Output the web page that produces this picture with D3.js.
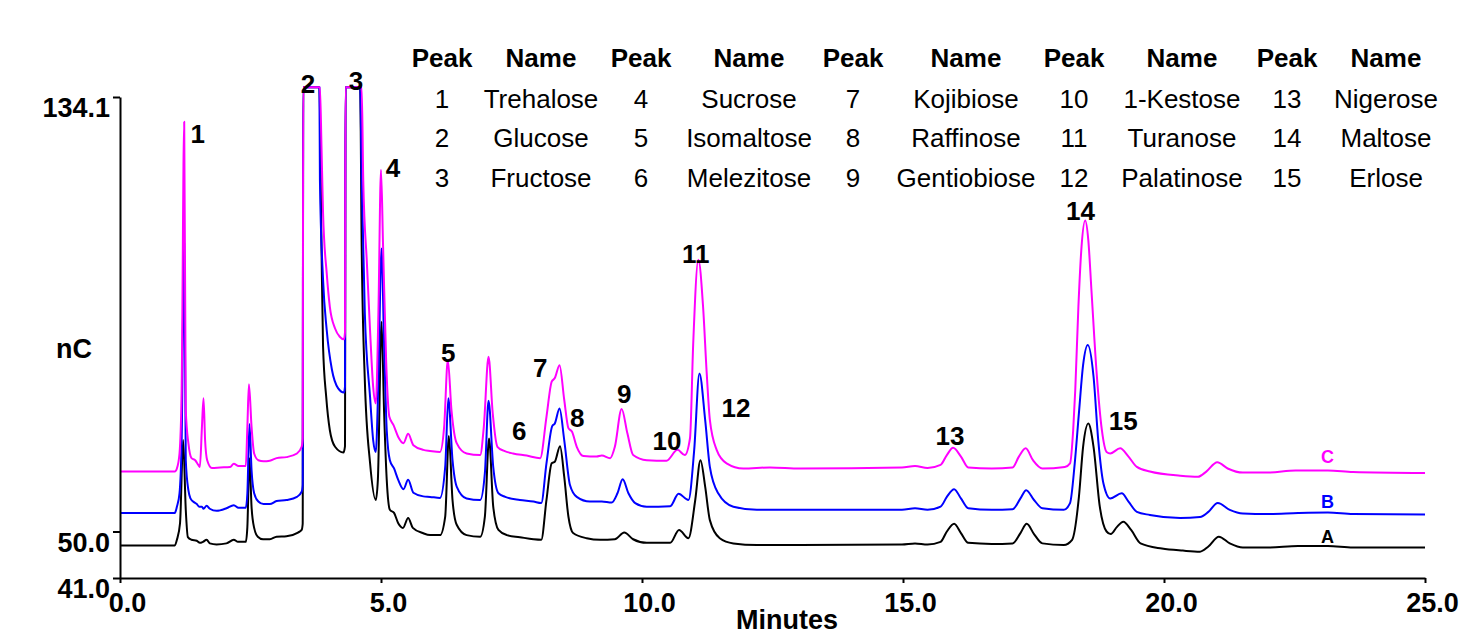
<!DOCTYPE html>
<html><head><meta charset="utf-8">
<script src="https://cdn.jsdelivr.net/npm/d3@7"></script>
<style>
html,body{margin:0;padding:0;background:#fff;}
svg{display:block;font-family:"Liberation Sans",Arial,Helvetica,sans-serif;}
</style></head><body>
<svg id="chart" width="1467" height="634"></svg>
<script>
// ---- data (minutes, nC) ----
const traceA = [[0,47.3],[1.05,47.3],[1.09,48.4],[1.15,51.6],[1.21,67.7],[1.26,54.2],[1.30,48.9],[1.37,48.4],[1.47,48.2],[1.53,47.8],[1.59,48.0],[1.66,48.4],[1.72,47.7],[1.85,47.5],[2.04,47.7],[2.18,48.4],[2.26,48.0],[2.41,48.0],[2.44,50.9],[2.48,64.2],[2.52,54.8],[2.57,50.7],[2.64,49.0],[2.74,48.5],[2.87,48.5],[3.00,49.0],[3.19,49.1],[3.41,49.8],[3.48,50.3],[3.50,51.5],[3.51,136.0],[3.82,136.0],[3.86,105.1],[3.89,85.8],[3.95,76.1],[4.02,69.6],[4.12,66.4],[4.28,65.3],[4.31,66.5],[4.32,136.0],[4.60,136.0],[4.63,105.1],[4.69,79.3],[4.79,63.3],[4.90,56.1],[4.94,60.0],[5.01,90.6],[5.06,72.9],[5.11,60.0],[5.17,54.2],[5.25,53.6],[5.33,51.6],[5.42,50.7],[5.52,52.6],[5.61,50.7],[5.80,49.7],[5.94,49.3],[6.13,49.3],[6.23,52.9],[6.30,68.5],[6.37,56.1],[6.45,51.3],[6.64,49.3],[6.90,49.0],[6.99,52.9],[7.07,68.0],[7.15,54.8],[7.25,50.3],[7.41,49.3],[7.66,48.9],[7.92,48.5],[8.07,48.4],[8.17,56.1],[8.27,63.2],[8.33,63.5],[8.43,66.5],[8.51,60.6],[8.59,52.9],[8.68,49.7],[8.94,48.7],[9.20,48.4],[9.48,48.5],[9.66,49.8],[9.83,48.5],[10.09,47.8],[10.54,47.8],[10.71,50.3],[10.89,48.7],[11.02,56.1],[11.12,63.8],[11.21,58.7],[11.30,52.2],[11.49,48.7],[11.75,47.7],[12.20,47.4],[13.03,47.4],[14.98,47.5],[15.23,47.7],[15.47,47.5],[15.72,48.0],[15.84,50.0],[15.98,51.5],[16.11,49.7],[16.25,47.8],[16.70,47.6],[17.10,47.7],[17.25,49.7],[17.37,51.5],[17.51,49.5],[17.67,47.7],[18.08,47.4],[18.24,48.4],[18.37,56.7],[18.45,66.4],[18.55,70.9],[18.65,66.4],[18.77,54.8],[18.90,50.0],[18.98,49.5],[19.10,50.9],[19.22,51.9],[19.37,50.3],[19.55,47.7],[19.96,46.7],[20.36,46.3],[20.69,46.1],[20.85,47.1],[21.05,49.0],[21.26,47.7],[21.51,46.9],[21.99,46.9],[22.57,47.2],[23.14,47.2],[23.62,46.9],[25.00,46.9]];

const traceB = [[0,53.6],[1.05,53.6],[1.09,54.8],[1.14,57.4],[1.18,67.1],[1.23,105.8],[1.26,63.8],[1.31,58.0],[1.35,56.4],[1.40,55.8],[1.47,55.3],[1.52,54.8],[1.57,54.8],[1.60,54.4],[1.66,55.0],[1.72,54.4],[1.85,54.0],[2.04,54.5],[2.18,55.1],[2.27,54.6],[2.41,54.6],[2.44,57.4],[2.48,70.8],[2.52,61.9],[2.57,57.4],[2.65,55.8],[2.75,55.3],[2.87,55.3],[3.00,55.9],[3.19,56.1],[3.39,56.7],[3.48,57.7],[3.50,59.0],[3.51,136.0],[3.82,136.0],[3.83,118.0],[3.89,98.7],[3.96,89.0],[4.06,81.3],[4.18,77.7],[4.29,76.9],[4.31,78.0],[4.32,136.0],[4.60,136.0],[4.63,118.0],[4.69,92.3],[4.79,76.1],[4.85,67.7],[4.90,65.4],[4.95,79.3],[5.01,104.8],[5.06,85.8],[5.11,69.6],[5.17,63.8],[5.25,62.2],[5.33,60.0],[5.43,58.2],[5.52,60.0],[5.62,57.5],[5.81,56.8],[5.94,56.7],[6.13,56.5],[6.23,62.5],[6.29,75.8],[6.37,63.8],[6.45,58.7],[6.64,56.4],[6.90,56.1],[6.99,61.3],[7.06,75.3],[7.15,62.5],[7.25,57.4],[7.38,56.7],[7.66,56.1],[7.92,55.8],[8.07,55.5],[8.17,63.2],[8.28,70.4],[8.33,70.9],[8.42,73.8],[8.51,67.7],[8.62,59.0],[8.75,56.7],[9.00,55.8],[9.23,55.8],[9.42,55.6],[9.53,57.4],[9.63,60.1],[9.74,57.4],[9.87,55.5],[10.09,54.8],[10.54,54.9],[10.70,57.3],[10.89,56.1],[11.00,65.8],[11.10,80.6],[11.21,71.6],[11.30,62.5],[11.46,57.4],[11.75,54.8],[12.20,54.2],[13.03,54.2],[14.98,54.2],[15.23,54.5],[15.47,54.2],[15.72,54.8],[15.84,56.7],[15.98,58.2],[16.11,56.4],[16.25,54.5],[16.70,54.2],[17.10,54.3],[17.25,56.4],[17.36,58.0],[17.51,56.1],[17.67,54.5],[18.08,54.2],[18.20,55.5],[18.29,63.2],[18.37,72.9],[18.45,82.2],[18.54,86.1],[18.65,80.0],[18.74,67.7],[18.84,59.3],[18.97,56.4],[19.19,57.4],[19.32,55.8],[19.48,53.8],[19.73,53.2],[20.31,52.6],[20.69,52.8],[20.85,53.8],[21.03,55.5],[21.26,54.2],[21.51,53.5],[21.99,53.4],[22.57,53.6],[23.14,53.7],[23.62,53.4],[25.00,53.3]];

const traceC = [[0,61.6],[1.05,61.6],[1.09,62.2],[1.14,65.1],[1.18,76.8],[1.23,129.3],[1.26,73.5],[1.31,67.1],[1.37,64.2],[1.44,63.8],[1.50,62.9],[1.53,62.5],[1.57,70.3],[1.60,75.8],[1.63,67.7],[1.67,63.8],[1.76,62.3],[1.92,62.4],[2.11,62.5],[2.18,63.1],[2.27,62.7],[2.41,62.7],[2.44,70.3],[2.47,78.5],[2.52,70.3],[2.57,65.1],[2.65,63.8],[2.75,63.6],[2.87,63.7],[3.00,64.2],[3.19,64.4],[3.39,65.1],[3.48,66.4],[3.50,68.0],[3.51,136.0],[3.83,136.0],[3.86,124.5],[3.89,111.6],[3.96,100.0],[4.02,93.5],[4.12,89.3],[4.21,87.7],[4.29,87.2],[4.31,88.5],[4.32,136.0],[4.63,136.0],[4.66,118.0],[4.73,101.9],[4.79,89.0],[4.85,78.0],[4.90,74.8],[4.95,92.2],[5.00,120.0],[5.04,105.1],[5.10,82.6],[5.16,72.2],[5.24,70.6],[5.33,68.3],[5.43,67.1],[5.52,68.9],[5.62,66.7],[5.81,65.8],[5.94,65.6],[6.13,65.4],[6.21,70.3],[6.28,83.2],[6.35,73.5],[6.45,67.1],[6.64,65.1],[6.90,64.8],[6.97,70.3],[7.06,83.8],[7.14,72.9],[7.23,66.4],[7.36,65.6],[7.53,65.1],[7.79,64.7],[8.05,64.2],[8.17,72.2],[8.27,79.0],[8.33,79.7],[8.42,82.2],[8.51,75.5],[8.59,70.0],[8.66,69.3],[8.75,66.4],[8.88,64.6],[9.13,64.5],[9.23,64.7],[9.39,64.2],[9.48,66.4],[9.61,73.7],[9.72,69.0],[9.83,64.8],[10.09,63.8],[10.47,63.7],[10.68,65.8],[10.82,64.8],[10.92,68.1],[10.98,86.1],[11.08,102.6],[11.17,93.5],[11.24,80.6],[11.30,71.6],[11.43,65.8],[11.62,63.2],[11.94,62.2],[12.45,62.4],[13.03,62.2],[14.98,62.4],[15.23,62.7],[15.47,62.3],[15.72,62.9],[15.84,64.8],[15.96,66.2],[16.11,64.5],[16.25,62.4],[16.70,62.2],[17.10,62.4],[17.22,64.5],[17.35,66.1],[17.49,63.8],[17.67,62.2],[18.10,62.5],[18.20,63.2],[18.26,69.6],[18.30,77.4],[18.36,93.5],[18.42,105.1],[18.49,110.2],[18.55,106.4],[18.61,96.7],[18.71,80.6],[18.81,69.6],[18.90,65.4],[18.97,65.1],[19.16,66.1],[19.32,64.5],[19.48,62.5],[19.73,61.6],[20.31,60.8],[20.65,60.6],[20.81,61.6],[21.02,63.4],[21.22,62.2],[21.51,61.4],[21.99,61.4],[22.52,61.8],[23.14,61.8],[23.62,61.5],[25.00,61.3]];

const traceNames = ["A", "B", "C"];
const traceColors = ["#000000", "#0000ff", "#ff00ff"];
const traceLabelAnchors = [[23.13, 47.8], [23.13, 54.5], [23.13, 63.3]];

const peakLabels = ["1","2","3","4","5","6","7","8","9","10","11","12","13","14","15"];
const peakLabelAnchors = [[1.49,125.2],[3.60,134.9],[4.52,135.5],[5.23,118.6],[6.29,82.8],[7.65,67.7],[8.05,79.9],[8.76,70.2],[9.66,74.9],[10.48,65.8],[11.03,102.0],[11.80,72.2],[15.90,66.7],[18.40,110.3],[19.22,69.6]];

const legendPeaks = [1,2,3,4,5,6,7,8,9,10,11,12,13,14,15];
const legendNames = ["Trehalose","Glucose","Fructose","Sucrose","Isomaltose","Melezitose","Kojibiose","Raffinose","Gentiobiose","1-Kestose","Turanose","Palatinose","Nigerose","Maltose","Erlose"];

const xTicks = [0, 5, 10, 15, 20, 25];
const yTicks = [41.0, 50.0, 134.1];
const xDomain = [0, 25];
const yDomain = [41.0, 134.1];
const xTitle = "Minutes";
const yTitle = "nC";

// ---- drawing ----
const svg = d3.select("#chart");
const x = d3.scaleLinear().domain(xDomain).range([120, 1425]);
const y = d3.scaleLinear().domain(yDomain).range([578, 97]);

const line = d3.line().x(d => x(d[0])).y(d => y(d[1])).curve(d3.curveMonotoneX);
const traces = [traceA, traceB, traceC];

svg.append("g").selectAll("path").data(traces).join("path")
  .attr("d", d => line(d))
  .attr("fill", "none")
  .attr("stroke", (d, i) => traceColors[i])
  .attr("stroke-width", 2)
  .attr("stroke-linejoin", "round");

// axes
const yAxis = svg.append("g").attr("transform", `translate(${x(0)},0)`)
  .call(d3.axisLeft(y).tickValues(yTicks).tickSize(7).tickSizeOuter(0).tickPadding(3).tickFormat(d3.format(".1f")));
const xAxis = svg.append("g").attr("transform", `translate(0,${y(41)})`)
  .call(d3.axisBottom(x).tickValues(xTicks).tickSize(5).tickSizeOuter(0).tickPadding(10).tickFormat(d3.format(".1f")));

[xAxis, yAxis].forEach(g => {
  g.select(".domain").attr("stroke", "#000").attr("stroke-width", 2);
  g.selectAll(".tick line").attr("stroke", "#000").attr("stroke-width", 2);
  g.selectAll(".tick text").attr("fill", "#000").attr("font-size", 27).attr("font-weight", "bold")
    .attr("font-family", '"Liberation Sans",Arial,sans-serif');
});
yAxis.selectAll(".tick text").attr("dy", "0.74em");
xAxis.selectAll(".tick text").attr("dx", 7);

svg.append("text").text(xTitle).attr("x", 787).attr("y", 629)
  .attr("text-anchor", "middle").attr("font-size", 27).attr("font-weight", "bold");
svg.append("text").text(yTitle).attr("x", 74).attr("y", 358)
  .attr("text-anchor", "middle").attr("font-size", 27).attr("font-weight", "bold");

// peak labels
svg.append("g").selectAll("text").data(peakLabels).join("text")
  .text(d => d)
  .attr("x", (d, i) => x(peakLabelAnchors[i][0]))
  .attr("y", (d, i) => y(peakLabelAnchors[i][1]))
  .attr("text-anchor", "middle").attr("font-size", 26).attr("font-weight", "bold");

// trace labels
svg.append("g").selectAll("text").data(traceNames).join("text")
  .text(d => d)
  .attr("x", (d, i) => x(traceLabelAnchors[i][0]))
  .attr("y", (d, i) => y(traceLabelAnchors[i][1]))
  .attr("text-anchor", "middle").attr("font-size", 18).attr("font-weight", "bold")
  .attr("fill", (d, i) => traceColors[i]);

// legend table
const peakColX = [442, 641, 853, 1074, 1287];
const nameColX = [541, 749, 966, 1182, 1386];
const rowY = [108, 147, 187];
const leg = svg.append("g").attr("font-size", 26);
peakColX.forEach((px, c) => {
  leg.append("text").text("Peak").attr("x", px).attr("y", 67).attr("text-anchor", "middle").attr("font-weight", "bold");
  leg.append("text").text("Name").attr("x", nameColX[c]).attr("y", 67).attr("text-anchor", "middle").attr("font-weight", "bold");
});
leg.selectAll("text.num").data(legendPeaks).join("text").attr("class", "num")
  .text(d => d)
  .attr("x", (d, i) => peakColX[Math.floor(i / 3)])
  .attr("y", (d, i) => rowY[i % 3])
  .attr("text-anchor", "middle");
leg.selectAll("text.nm").data(legendNames).join("text").attr("class", "nm")
  .text(d => d)
  .attr("x", (d, i) => nameColX[Math.floor(i / 3)])
  .attr("y", (d, i) => rowY[i % 3])
  .attr("text-anchor", "middle");
</script>
</body></html>
